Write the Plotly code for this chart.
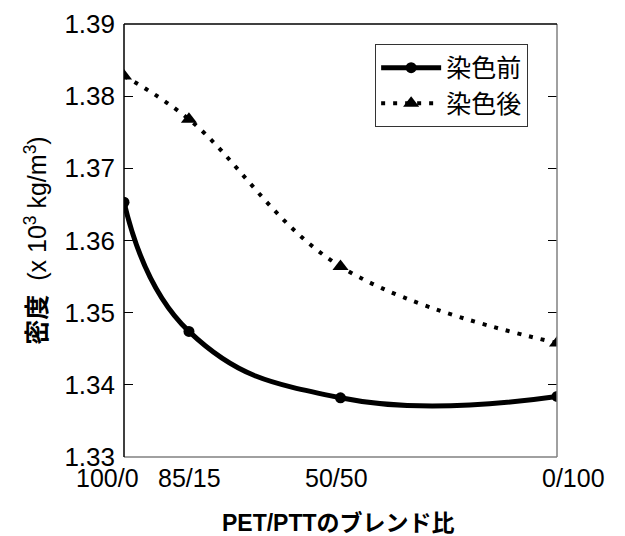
import plotly.graph_objects as go

ptt_content = [0, 15, 50, 100]
tick_labels = ["100/0", "85/15", "50/50", "0/100"]
before_dye = [1.3653, 1.3474, 1.3382, 1.3384]
after_dye = [1.3828, 1.3768, 1.3564, 1.3458]
y_ticks = [1.33, 1.34, 1.35, 1.36, 1.37, 1.38, 1.39]

# label pixel nudges (style only), mimicking the original layout
label_shift = [-17, 1, -4, 16]

FONT = "Liberation Sans, Arial, Noto Sans CJK JP, sans-serif"
CJK = "Noto Sans CJK JP, sans-serif"

fig = go.Figure()
fig.add_trace(go.Scatter(
    x=ptt_content, y=before_dye, name="染色前",
    mode="lines+markers",
    line=dict(color="black", width=5, shape="spline", smoothing=1.3),
    marker=dict(symbol="circle", size=11, color="black"),
))
fig.add_trace(go.Scatter(
    x=ptt_content, y=after_dye, name="染色後",
    mode="lines+markers",
    line=dict(color="black", width=4, shape="spline", smoothing=1.1, dash="4px,8px"),
    marker=dict(symbol="triangle-up", size=14, color="black"),
))

annotations = []
for xv, lab, sh in zip(ptt_content, tick_labels, label_shift):
    annotations.append(dict(
        x=xv, xref="x", y=0, yref="paper", text=lab, showarrow=False,
        xanchor="center", yanchor="middle", xshift=sh, yshift=-21,
        font=dict(family=FONT, size=25, color="black"),
    ))
annotations.append(dict(
    x=0.5, xref="paper", y=0, yref="paper", text="<b>PET/PTTのブレンド比</b>",
    showarrow=False, xanchor="center", yanchor="middle", yshift=-66, xshift=-2,
    font=dict(family=FONT, size=23, color="black"),
))

fig.update_layout(
    width=625, height=536,
    margin=dict(l=124, r=68, t=24, b=79),
    paper_bgcolor="white", plot_bgcolor="white",
    font=dict(family=FONT, size=25, color="black"),
    showlegend=True,
    legend=dict(
        x=0.580, y=0.954, xanchor="left", yanchor="top",
        bordercolor="#333333", borderwidth=1, bgcolor="white",
        font=dict(family=CJK, size=25),
        tracegroupgap=0, itemwidth=60,
    ),
    xaxis=dict(
        range=[0, 100], tickvals=ptt_content, showticklabels=False,
        showgrid=False, zeroline=False, showline=False, ticks="",
        automargin=False,
    ),
    yaxis=dict(
        range=[1.33, 1.39], tickvals=y_ticks, tickformat=".2f",
        showgrid=False, zeroline=False, showline=False,
        ticks="inside", ticklen=9, tickcolor="black", tickwidth=1,
        mirror="ticks", automargin=False,
        tickfont=dict(size=26), ticklabelstandoff=8,
        title=dict(text="<b>密度</b>  (x 10<sup>3</sup> kg/m<sup>3</sup>)", font=dict(family=FONT, size=25), standoff=10),
    ),
    annotations=annotations,
    shapes=[
        dict(type="line", xref="paper", yref="paper", x0=0, x1=1, y0=0, y1=0, line=dict(color="#808080", width=1.5)),
        dict(type="line", xref="paper", yref="paper", x0=1, x1=1, y0=0, y1=1, line=dict(color="#808080", width=1.5)),
        dict(type="line", xref="paper", yref="paper", x0=0, x1=1, y0=1, y1=1, line=dict(color="black", width=1.5)),
        dict(type="line", xref="paper", yref="paper", x0=0, x1=0, y0=0, y1=1, line=dict(color="black", width=1.5)),
    ],
)

fig.write_html("out.html", config={"displayModeBar": False},
               post_script="document.body.style.margin='0';")
